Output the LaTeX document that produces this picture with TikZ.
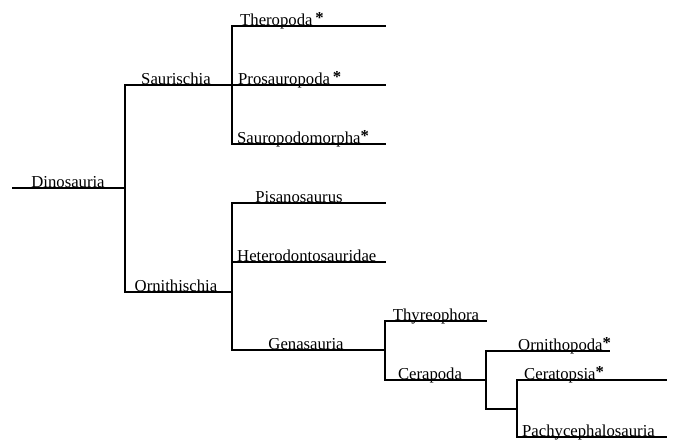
\documentclass[tikz,border=0pt]{standalone}
\usepackage{fontspec}
\setmainfont{Liberation Serif}
\newcommand{\astm}{\raisebox{1.5pt}{\bfseries *}}
\begin{document}
\begin{tikzpicture}[x=1pt,y=-1pt,
  br/.style={line width=2pt,line join=miter,line cap=rect},
  lab/.style={inner sep=0pt,anchor=base,font=\fontsize{16.7}{19}\selectfont},
  labl/.style={lab,anchor=base west}]
\useasboundingbox (0,0) rectangle (685,440);
% junction coordinates
\coordinate (r0) at (13,188);  \coordinate (r1) at (125,188);
\coordinate (s1) at (125,85);  \coordinate (s2) at (232,85);
\coordinate (o1) at (125,292); \coordinate (o2) at (232,292);
\coordinate (t1) at (232,26);  \coordinate (t2) at (385,26);
\coordinate (p1) at (232,85);  \coordinate (p2) at (385,85);
\coordinate (sp1) at (232,144); \coordinate (sp2) at (385,144);
\coordinate (pi1) at (232,203); \coordinate (pi2) at (385,203);
\coordinate (h1) at (232,262);  \coordinate (h2) at (385,262);
\coordinate (g1) at (232,350);  \coordinate (g2) at (385,350);
\coordinate (th1) at (385,321); \coordinate (th2) at (486,321);
\coordinate (c1) at (385,380);  \coordinate (c2) at (486,380);
\coordinate (or1) at (486,351); \coordinate (or2) at (609,351);
\coordinate (u1) at (486,409);  \coordinate (u2) at (517,409);
\coordinate (ce1) at (517,380); \coordinate (ce2) at (666,380);
\coordinate (pa1) at (517,437); \coordinate (pa2) at (666,437);
% branches
\draw[br] (r0) -- (r1);
\draw[br] (s2) -- (s1) -- (o1) -- (o2);
\draw[br] (t2) -- (t1) -- (sp1) -- (sp2);
\draw[br] (p1) -- (p2);
\draw[br] (pi2) -- (pi1) -- (g1) -- (g2);
\draw[br] (h1) -- (h2);
\draw[br] (th2) -- (th1) -- (c1) -- (c2);
\draw[br] (or2) -- (or1) -- (u1) -- (u2);
\draw[br] (ce2) -- (ce1) -- (pa1) -- (pa2);
% labels
\node[lab]  (ldino) at (68,187)  {Dinosauria};
\node[lab]  (lsaur) at (176,84)  {Saurischia};
\node[lab]  (lorni) at (176,291) {Ornithischia};
\node[labl] (lther) at (240,25)  {Theropoda\,\astm};
\node[labl] (lpros) at (238,84)  {Prosauropoda\,\astm};
\node[labl] (lsaup) at (237,143) {Sauropodomorpha\astm};
\node[lab]  (lpisa) at (299,202) {Pisanosaurus};
\node[labl] (lhete) at (237,261) {Heterodontosauridae};
\node[lab]  (lgena) at (306,349) {Genasauria};
\node[lab]  (lthyr) at (436,320) {Thyreophora};
\node[lab]  (lcera) at (430,379) {Cerapoda};
\node[labl] (lornp) at (518,350) {Ornithopoda\astm};
\node[labl] (lcrat) at (524,379) {Ceratopsia\astm};
\node[labl] (lpach) at (522,436) {Pachycephalosauria};
\end{tikzpicture}
\end{document}
